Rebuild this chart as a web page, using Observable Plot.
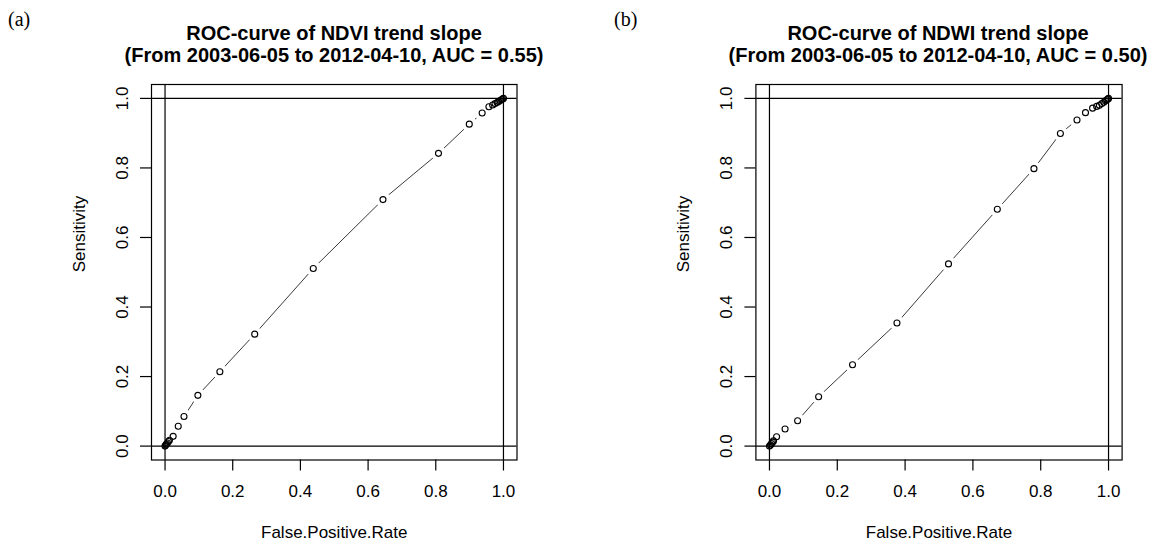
<!DOCTYPE html>
<html>
<head>
<meta charset="utf-8">
<script src="https://cdn.jsdelivr.net/npm/d3@7"></script>
<script src="https://cdn.jsdelivr.net/npm/@observablehq/plot@0.6"></script>
<style>
  html, body { margin: 0; padding: 0; background: #fff; }
  #page { position: relative; width: 1155px; height: 542px; overflow: hidden; background: #fff; }
  .panel { position: absolute; top: 0; }
  .tag { position: absolute; font-family: "Liberation Serif", "Times New Roman", serif; font-size: 20px; line-height: 20px; color: #000; }
  .title { position: absolute; font-family: "Liberation Sans", Arial, sans-serif; font-weight: bold; font-size: 20px; line-height: 22.7px; color: #000; text-align: center; white-space: nowrap; }
</style>
</head>
<body>
<div id="page">
  <div class="tag" style="left:8px; top:9px;">(a)</div>
  <div class="tag" style="left:614px; top:9px;">(b)</div>
  <div class="title" id="titleA" style="left:54px; width:560px; top:21.7px;"></div>
  <div class="title" id="titleB" style="left:658px; width:560px; top:21.7px;"></div>
  <div class="panel" id="panelA" style="left:0px;"></div>
  <div class="panel" id="panelB" style="left:577px;"></div>
</div>
<script>
// ---- data ----
const titleA = ["ROC-curve of NDVI trend slope", "(From 2003-06-05 to 2012-04-10, AUC = 0.55)"];
const titleB = ["ROC-curve of NDWI trend slope", "(From 2003-06-05 to 2012-04-10, AUC = 0.50)"];
const xLabel = "False.Positive.Rate";
const yLabel = "Sensitivity";
const tickValues = [0, 0.2, 0.4, 0.6, 0.8, 1.0];

// Panel (a): NDVI
const fprA = [0, 0.002, 0.004, 0.007, 0.010, 0.013, 0.024, 0.039, 0.056, 0.097, 0.162, 0.265, 0.438, 0.644, 0.808, 0.899, 0.937, 0.957, 0.968, 0.975, 0.981, 0.986, 0.990, 0.994, 0.997, 1];
const tprA = [0, 0.003, 0.006, 0.009, 0.013, 0.017, 0.028, 0.057, 0.085, 0.146, 0.214, 0.322, 0.511, 0.709, 0.842, 0.926, 0.958, 0.976, 0.981, 0.985, 0.988, 0.991, 0.994, 0.996, 0.998, 1];

// Panel (b): NDWI
const fprB = [0, 0.003, 0.006, 0.009, 0.012, 0.021, 0.046, 0.083, 0.145, 0.245, 0.376, 0.528, 0.672, 0.780, 0.858, 0.907, 0.932, 0.953, 0.965, 0.973, 0.980, 0.986, 0.991, 0.995, 0.998, 1];
const tprB = [0, 0.003, 0.007, 0.011, 0.015, 0.027, 0.049, 0.073, 0.142, 0.234, 0.354, 0.524, 0.681, 0.798, 0.899, 0.938, 0.959, 0.972, 0.977, 0.980, 0.985, 0.989, 0.993, 0.996, 0.998, 1];

// ---- drawing ----
function panel(fpr, tpr, {width, marginLeft, marginRight}) {
  const data = fpr.map((x, i) => ({x, y: tpr[i]}));
  const fmt = d => d.toFixed(1);
  return Plot.plot({
    width,
    height: 542,
    marginTop: 84,
    marginBottom: 82.5,
    marginLeft,
    marginRight,
    x: {domain: [-0.04, 1.04]},
    y: {domain: [-0.04, 1.04]},
    style: {fontFamily: "'Liberation Sans', Arial, sans-serif", fontSize: "17px", color: "#000", background: "transparent", overflow: "visible"},
    marks: [
      Plot.line(data, {x: "x", y: "y", stroke: "#222", strokeWidth: 0.9}),
      Plot.dot(data, {x: "x", y: "y", r: 7.5, fill: "white", stroke: null}),
      Plot.ruleX([0, 1], {stroke: "#000", strokeWidth: 1.2}),
      Plot.ruleY([0, 1], {stroke: "#000", strokeWidth: 1.2}),
      Plot.frame({stroke: "#000", strokeWidth: 1.2}),
      Plot.axisX(tickValues, {tickSize: 11, tickPadding: 14, tickFormat: fmt, label: null, fontSize: 17, strokeWidth: 1.2}),
      Plot.axisY(tickValues, {tickSize: 11, tickPadding: 12.7, tickRotate: -90, tickFormat: fmt, label: null, fontSize: 17, strokeWidth: 1.2}),
      Plot.text([xLabel], {text: d => d, frameAnchor: "bottom", dy: 78, lineAnchor: "bottom", fontSize: 17}),
      Plot.text([yLabel], {text: d => d, frameAnchor: "left", rotate: -90, dx: -67, lineAnchor: "bottom", fontSize: 17}),
      Plot.dot(data, {x: "x", y: "y", r: 3, stroke: "#000", strokeWidth: 1.1, fill: "none"})
    ]
  });
}

document.getElementById("titleA").innerHTML = titleA.join("<br>");
document.getElementById("titleB").innerHTML = titleB.join("<br>");
document.getElementById("panelA").append(panel(fprA, tprA, {width: 577, marginLeft: 151, marginRight: 60.5}));
document.getElementById("panelB").append(panel(fprB, tprB, {width: 578, marginLeft: 178.4, marginRight: 33.4}));
</script>
</body>
</html>
